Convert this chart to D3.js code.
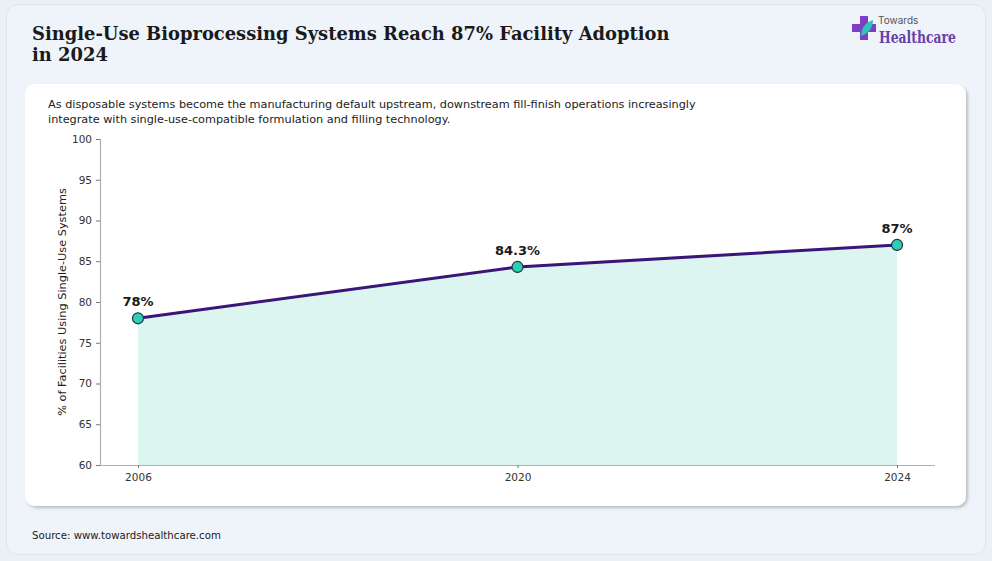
<!DOCTYPE html>
<html><head><meta charset="utf-8">
<script src="https://cdn.jsdelivr.net/npm/d3@7/dist/d3.min.js"></script>
<style>
html,body{margin:0;padding:0;background:#e9f1f6;}
svg{display:block;}
</style></head>
<body>
<svg id="chart" width="992" height="561"></svg>
<script>
const years = ["2006", "2020", "2024"];
const adoption = [78, 84.3, 87];
const labels = ["78%", "84.3%", "87%"];
const yTicks = [60, 65, 70, 75, 80, 85, 90, 95, 100];

const svg = d3.select("#chart");
const defs = svg.append("defs");
const f = defs.append("filter").attr("id","sh").attr("x","-5%").attr("y","-5%").attr("width","110%").attr("height","115%");
f.append("feDropShadow").attr("dx",2).attr("dy",2).attr("stdDeviation",1.5).attr("flood-color","#000").attr("flood-opacity",0.22);

// outer card
svg.append("rect").attr("x",6.5).attr("y",4.5).attr("width",979).attr("height",550).attr("rx",12)
  .attr("fill","#eef4fa").attr("stroke","#dde6ee").attr("stroke-width",1);

// title
const title = svg.append("text").attr("font-family","DejaVu Serif").attr("font-weight","bold")
  .attr("font-size",17.9).attr("fill","#1a1a1a");
title.append("tspan").attr("x",32).attr("y",40).text("Single-Use Bioprocessing Systems Reach 87% Facility Adoption");
title.append("tspan").attr("x",32).attr("y",61).text("in 2024");

// logo
const logo = svg.append("g").attr("transform","translate(852,16)");
logo.append("path").attr("d","M8,0 h8 v8 h8 v8 h-8 v8 h-8 v-8 h-8 v-8 h8 z").attr("fill","#7b3fc4");
logo.append("path").attr("d","M9,20 C9,12 14,6 21,4 C21,12 16,18 9,20 z").attr("fill","#2ec4b6");
svg.append("text").attr("x",878).attr("y",24).attr("font-family","Inter, Roboto, sans-serif").attr("font-size",10)
  .attr("fill","#555").text("Towards");
svg.append("text").attr("x",879).attr("y",43).attr("font-family","DejaVu Serif").attr("font-weight","bold").attr("font-size",16)
  .attr("textLength",77).attr("lengthAdjust","spacingAndGlyphs")
  .attr("fill","#6a3fa8").text("Healthcare");

// inner card
svg.append("rect").attr("x",25).attr("y",84).attr("width",941).attr("height",422).attr("rx",10)
  .attr("fill","#ffffff").attr("filter","url(#sh)");

// subtitle
const sub = svg.append("text").attr("font-family","DejaVu Sans").attr("font-size",11.25).attr("fill","#222");
sub.append("tspan").attr("x",48).attr("y",108).text("As disposable systems become the manufacturing default upstream, downstream fill-finish operations increasingly");
sub.append("tspan").attr("x",48).attr("y",123).text("integrate with single-use-compatible formulation and filling technology.");

// scales
const x = d3.scalePoint().domain(years).range([100,935]).padding(0.1);
const y = d3.scaleLinear().domain([60,100]).range([465,139]);

const data = years.map((yr,i)=>({yr, v:adoption[i], l:labels[i]}));

// area
svg.append("path").datum(data)
  .attr("d", d3.area().x(d=>x(d.yr)).y0(y(60)).y1(d=>y(d.v)))
  .attr("fill","#ddf5f1");

// axes
const yAxis = svg.append("g").attr("transform","translate(100,0)")
  .call(d3.axisLeft(y).tickValues(yTicks).tickSize(4).tickPadding(4));
const xAxis = svg.append("g").attr("transform","translate(0,465)")
  .call(d3.axisBottom(x).tickSize(3).tickPadding(6));
[yAxis,xAxis].forEach(a=>{
  a.select(".domain").attr("stroke","#b0b0b0").attr("stroke-width",1.2);
  a.selectAll(".tick line").attr("stroke","#777");
  a.selectAll(".tick text").attr("font-family","DejaVu Sans").attr("font-size",10.5).attr("fill","#333");
});
xAxis.select(".domain").attr("d","M100,0.5H935");

// y label
svg.append("text").attr("transform","translate(66,302) rotate(-90)").attr("text-anchor","middle")
  .attr("font-family","DejaVu Sans").attr("font-size",11.3).attr("fill","#222")
  .text("% of Facilities Using Single-Use Systems");

// line
svg.append("path").datum(data)
  .attr("d", d3.line().x(d=>x(d.yr)).y(d=>y(d.v)))
  .attr("fill","none").attr("stroke","#3a1678").attr("stroke-width",3);

// points
svg.selectAll("circle.pt").data(data).join("circle").attr("class","pt")
  .attr("cx",d=>x(d.yr)).attr("cy",d=>y(d.v)).attr("r",5.5)
  .attr("fill","#2ecdb6").attr("stroke","#1f3340").attr("stroke-width",1.2);

// labels
svg.selectAll("text.lbl").data(data).join("text").attr("class","lbl")
  .attr("x",d=>x(d.yr)).attr("y",d=>y(d.v)-12).attr("text-anchor","middle")
  .attr("font-family","DejaVu Sans").attr("font-weight","bold").attr("font-size",13).attr("fill","#1a1a1a")
  .text(d=>d.l);

// source
svg.append("text").attr("x",32).attr("y",539).attr("font-family","DejaVu Sans").attr("font-size",10.2)
  .attr("fill","#222").text("Source: www.towardshealthcare.com");
</script>
</body></html>
